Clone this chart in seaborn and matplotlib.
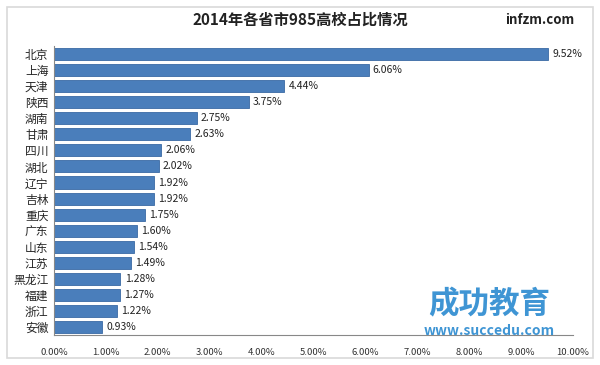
import matplotlib.pyplot as plt
import seaborn as sns
import pandas as pd
from matplotlib.patches import Rectangle

provinces = ['北京', '上海', '天津', '陕西', '湖南', '甘肃', '四川', '湖北', '辽宁',
             '吉林', '重庆', '广东', '山东', '江苏', '黑龙江', '福建', '浙江', '安徽']
shares = [9.52, 6.06, 4.44, 3.75, 2.75, 2.63, 2.06, 2.02, 1.92,
          1.92, 1.75, 1.60, 1.54, 1.49, 1.28, 1.27, 1.22, 0.93]
xticks = [0, 1, 2, 3, 4, 5, 6, 7, 8, 9, 10]

df = pd.DataFrame({'省市': provinces, '占比': shares})

sns.set_style('white')
plt.rcParams['font.family'] = ['Noto Sans CJK SC', 'DejaVu Sans']

fig = plt.figure(figsize=(6, 3.65), dpi=100)
fig.patches.append(Rectangle((0.012, 0.018), 0.976, 0.962, transform=fig.transFigure,
                             fill=False, edgecolor='#d9d9d9', linewidth=1.2))
ax = fig.add_axes([0.09, 0.082, 0.865, 0.792])

sns.barplot(data=df, x='占比', y='省市', color='#4a7ebb', saturation=1,
            width=0.75, edgecolor='#3a6aa5', linewidth=0.6, ax=ax)

for i, v in enumerate(shares):
    ax.text(v + 0.08, i, f'{v:.2f}%', va='center', ha='left', fontsize=7.5, color='#222222')

ax.set_xlim(0, 10)
ax.set_xticks(xticks)
ax.set_xticklabels([f'{t:.2f}%' for t in xticks], fontsize=6.8, color='#333333')
ax.tick_params(axis='x', length=3, color='#888888', direction='out', pad=6)
ax.tick_params(axis='y', length=0, labelsize=8.5, pad=4)
ax.set_xlabel('')
ax.set_ylabel('')
for side in ['top', 'right']:
    ax.spines[side].set_visible(False)
ax.spines['left'].set_color('#888888')
ax.spines['bottom'].set_color('#888888')

fig.text(0.5, 0.945, '2014年各省市985高校占比情况', ha='center', va='center',
         fontsize=11, fontweight='bold', color='#222222')
fig.text(0.9, 0.945, 'infzm.com', ha='center', va='center',
         fontsize=9.5, fontweight='bold', color='#222222')

# watermark
fig.text(0.815, 0.165, '成功教育', ha='center', va='center', fontsize=22,
         fontweight='bold', color='#2a8ad0', alpha=0.9)
fig.text(0.815, 0.093, 'www.succedu.com', ha='center', va='center', fontsize=10,
         fontweight='bold', color='#2a8ad0', alpha=0.9)

plt.savefig('out.png', dpi=100)
